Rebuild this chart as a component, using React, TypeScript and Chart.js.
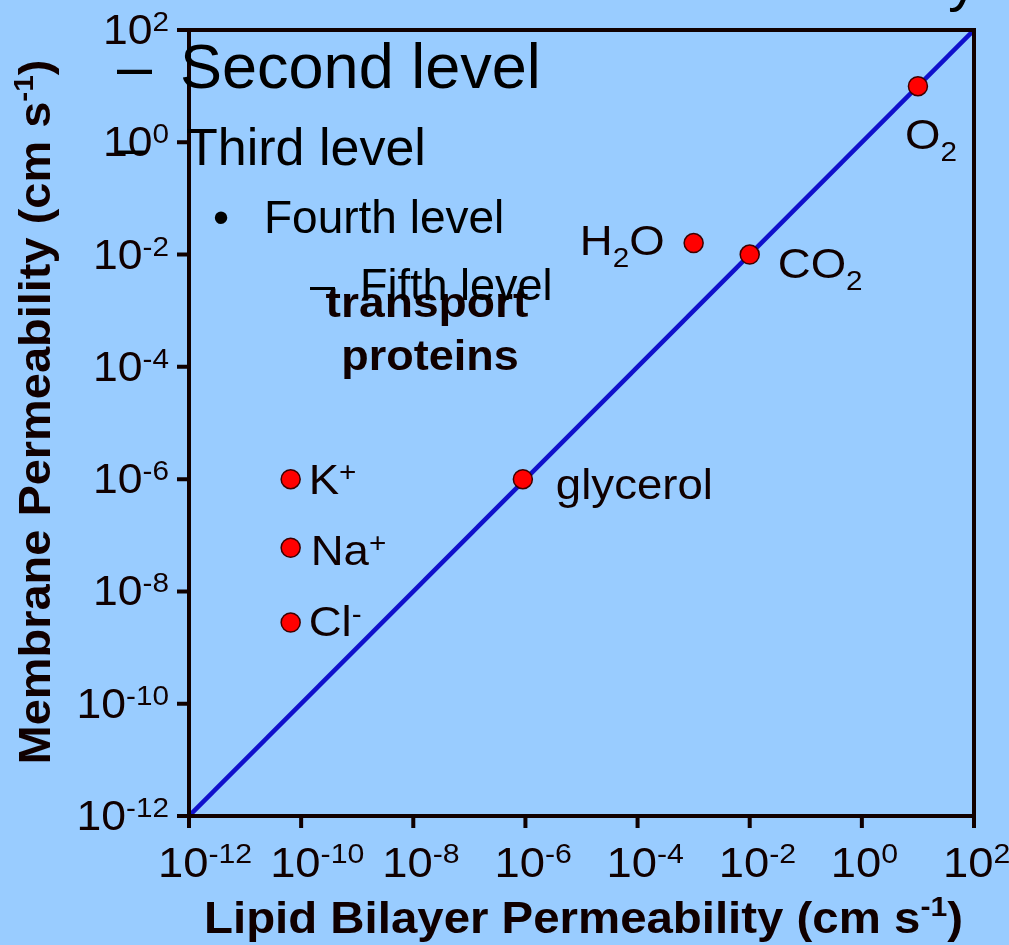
import React, { useEffect, useRef } from "react";
import { Chart, registerables } from "chart.js";

Chart.register(...registerables);

// ---------- data ----------
const TICK_VALUES = [1e-12, 1e-10, 1e-8, 1e-6, 1e-4, 1e-2, 1e0, 1e2];
const TICK_EXPONENTS = ["-12", "-10", "-8", "-6", "-4", "-2", "0", "2"];

const SUBSTANCES = ["O2", "H2O", "CO2", "glycerol", "K+", "Na+", "Cl-"];
const LIPID_PERMEABILITY = [10, 1e-3, 1e-2, 9e-7, 6.5e-11, 6.5e-11, 6.5e-11];
const MEMBRANE_PERMEABILITY = [10, 1.6e-2, 1e-2, 1e-6, 1e-6, 6e-8, 2.8e-9];

const DIAGONAL_X = [1e-12, 1e2];
const DIAGONAL_Y = [1e-12, 1e2];

type Part = [string, "n" | "sub" | "sup"];
const LABEL_PARTS: Part[][] = [
  [["O", "n"], ["2", "sub"]],
  [["H", "n"], ["2", "sub"], ["O", "n"]],
  [["CO", "n"], ["2", "sub"]],
  [["glycerol", "n"]],
  [["K", "n"], ["+", "sup"]],
  [["Na", "n"], ["+", "sup"]],
  [["Cl", "n"], ["-", "sup"]],
];

const X_TITLE: Part[] = [["Lipid Bilayer Permeability (cm s", "n"], ["-1", "sup"], [")", "n"]];
const Y_TITLE: Part[] = [["Membrane Permeability (cm s", "n"], ["-1", "sup"], [")", "n"]];
const NOTE_LINES = ["transport", "proteins"];

// slide-template outline text that overlays the figure
const OUTLINE_BULLETS = ["–", "–", "•", "–"];
const OUTLINE_TEXTS = ["Second level", "Third level", "Fourth level", "Fifth level"];

// ---------- style ----------
const BG = "#99CCFF";
const INK = "#100000";
const LINE_COLOR = "#1010CC";
const FAMILY = '"Liberation Sans", Arial, Helvetica, sans-serif';

// placement of point labels relative to the point pixel: [dx, dy(baseline), align]
const LABEL_PLACE: [number, number, "left" | "right"][] = [
  [-13, 63, "left"],
  [-29, 12, "right"],
  [28, 23, "left"],
  [33, 20, "left"],
  [18, 15, "left"],
  [20, 17, "left"],
  [18, 14, "left"],
];

type RichOpt = {
  size: number;
  small: number;
  weight?: string;
  sx?: number;
  align?: "left" | "right" | "center";
  raise?: number;
  drop?: number;
};

function partWidth(ctx: CanvasRenderingContext2D, parts: Part[], o: RichOpt) {
  let w = 0;
  for (const [t, k] of parts) {
    ctx.font = `${o.weight || "normal"} ${k === "n" ? o.size : o.small}px ${FAMILY}`;
    w += ctx.measureText(t).width;
  }
  return w;
}

function drawRich(ctx: CanvasRenderingContext2D, x: number, y: number, parts: Part[], o: RichOpt) {
  const sx = o.sx ?? 1;
  const w = partWidth(ctx, parts, o) * sx;
  let start = x;
  if (o.align === "right") start = x - w;
  else if (o.align === "center") start = x - w / 2;
  ctx.save();
  ctx.translate(start, y);
  ctx.scale(sx, 1);
  ctx.textAlign = "left";
  ctx.textBaseline = "alphabetic";
  let cx = 0;
  for (const [t, k] of parts) {
    ctx.font = `${o.weight || "normal"} ${k === "n" ? o.size : o.small}px ${FAMILY}`;
    const dy = k === "sup" ? -(o.raise ?? 13) : k === "sub" ? o.drop ?? 12 : 0;
    ctx.fillText(t, cx, dy);
    cx += ctx.measureText(t).width;
  }
  ctx.restore();
}

const figurePlugin = {
  id: "figure",
  beforeDraw(chart: any) {
    const { ctx, width, height } = chart;
    ctx.save();
    ctx.fillStyle = BG;
    ctx.fillRect(0, 0, width, height);
    ctx.restore();
  },
  afterDraw(chart: any) {
    const { ctx, chartArea } = chart;
    const xs = chart.scales.x;
    const ys = chart.scales.y;
    const { left, right, top, bottom } = chartArea;
    ctx.save();
    ctx.fillStyle = INK;
    ctx.strokeStyle = INK;

    // frame
    ctx.lineWidth = 4;
    ctx.strokeRect(left, top, right - left, bottom - top);

    // ticks
    ctx.beginPath();
    TICK_VALUES.forEach((v) => {
      const px = xs.getPixelForValue(v);
      ctx.moveTo(px, bottom);
      ctx.lineTo(px, bottom + 12);
      const py = ys.getPixelForValue(v);
      ctx.moveTo(left, py);
      ctx.lineTo(left - 12, py);
    });
    ctx.stroke();

    // tick labels
    TICK_VALUES.forEach((v, i) => {
      const parts: Part[] = [["10", "n"], [TICK_EXPONENTS[i], "sup"]];
      const px = xs.getPixelForValue(v);
      drawRich(ctx, px - 31, bottom + 61, parts, { size: 42, small: 28, raise: 14, sx: 1.08 });
      const py = ys.getPixelForValue(v);
      drawRich(ctx, left - 20, py + 14, parts, { size: 42, small: 28, raise: 13, align: "right", sx: 1.06 });
    });

    // axis titles
    drawRich(ctx, (left + right) / 2 + 2, 933, X_TITLE, {
      size: 44, small: 28, weight: "bold", align: "center", raise: 17, sx: 1.077,
    });
    ctx.save();
    ctx.translate(50, 412);
    ctx.rotate(-Math.PI / 2);
    drawRich(ctx, 0, 0, Y_TITLE, { size: 44, small: 28, weight: "bold", align: "center", raise: 17, sx: 1.067 });
    ctx.restore();

    // point labels
    const meta = chart.getDatasetMeta(1);
    meta.data.forEach((pt: any, i: number) => {
      const [dx, dy, align] = LABEL_PLACE[i];
      drawRich(ctx, pt.x + dx, pt.y + dy, LABEL_PARTS[i], {
        size: 43, small: 28, align, raise: 13, drop: 12, sx: 1.06,
      });
    });

    // note
    drawRich(ctx, 427, 317, [[NOTE_LINES[0], "n"]], { size: 42, small: 28, weight: "bold", align: "center", sx: 1.1 });
    drawRich(ctx, 430, 370, [[NOTE_LINES[1], "n"]], { size: 42, small: 28, weight: "bold", align: "center", sx: 1.07 });

    // slide outline overlay
    ctx.fillStyle = "#000000";
    const outline: [number, number, number, number][] = [
      // bulletX, textX, baseline, size
      [117, 180, 88, 63],
      [117, 186, 165, 52],
      [213, 264, 233, 46],
      [310, 360, 300, 45],
    ];
    outline.forEach(([bx, tx, by, sz], i) => {
      ctx.font = `normal ${sz}px ${FAMILY}`;
      ctx.textAlign = "left";
      ctx.textBaseline = "alphabetic";
      ctx.fillText(OUTLINE_BULLETS[i], bx, by);
      ctx.fillText(OUTLINE_TEXTS[i], tx, by);
    });
    // clipped descender of the slide title
    ctx.font = `normal 60px ${FAMILY}`;
    ctx.fillText("y", 948, 0);

    ctx.restore();
  },
};

export default function App() {
  const ref = useRef<HTMLCanvasElement>(null);
  useEffect(() => {
    document.body.style.margin = "0";
    document.body.style.background = BG;
    const canvas = ref.current!;
    const chart = new Chart(canvas, {
      type: "scatter",
      data: {
        datasets: [
          {
            type: "line",
            label: "Equal permeability",
            data: DIAGONAL_X.map((x, i) => ({ x, y: DIAGONAL_Y[i] })),
            borderColor: LINE_COLOR,
            borderWidth: 4.5,
            pointRadius: 0,
            fill: false,
            order: 2,
          } as any,
          {
            type: "scatter",
            label: "Solutes",
            data: SUBSTANCES.map((_, i) => ({ x: LIPID_PERMEABILITY[i], y: MEMBRANE_PERMEABILITY[i] })),
            pointRadius: 9.5,
            pointBackgroundColor: "#FF0000",
            pointBorderColor: "#3A0000",
            pointBorderWidth: 1.5,
            order: 1,
          } as any,
        ],
      },
      options: {
        responsive: false,
        animation: false,
        devicePixelRatio: 1,
        layout: { padding: { top: 30, right: 35, left: 0, bottom: 0 } },
        plugins: {
          legend: { display: false },
          tooltip: { enabled: false },
          title: { display: false },
        },
        scales: {
          x: {
            type: "logarithmic",
            min: 1e-12,
            max: 1e2,
            grid: { display: false },
            border: { display: false },
            ticks: { display: false },
            afterBuildTicks: (s: any) => {
              s.ticks = TICK_VALUES.map((v) => ({ value: v }));
            },
            afterFit: (s: any) => {
              s.height = 129;
            },
          },
          y: {
            type: "logarithmic",
            min: 1e-12,
            max: 1e2,
            grid: { display: false },
            border: { display: false },
            ticks: { display: false },
            afterBuildTicks: (s: any) => {
              s.ticks = TICK_VALUES.map((v) => ({ value: v }));
            },
            afterFit: (s: any) => {
              s.width = 189;
            },
          },
        },
      } as any,
      plugins: [figurePlugin],
    });
    return () => chart.destroy();
  }, []);
  return <canvas ref={ref} width={1009} height={945} style={{ display: "block" }} />;
}
